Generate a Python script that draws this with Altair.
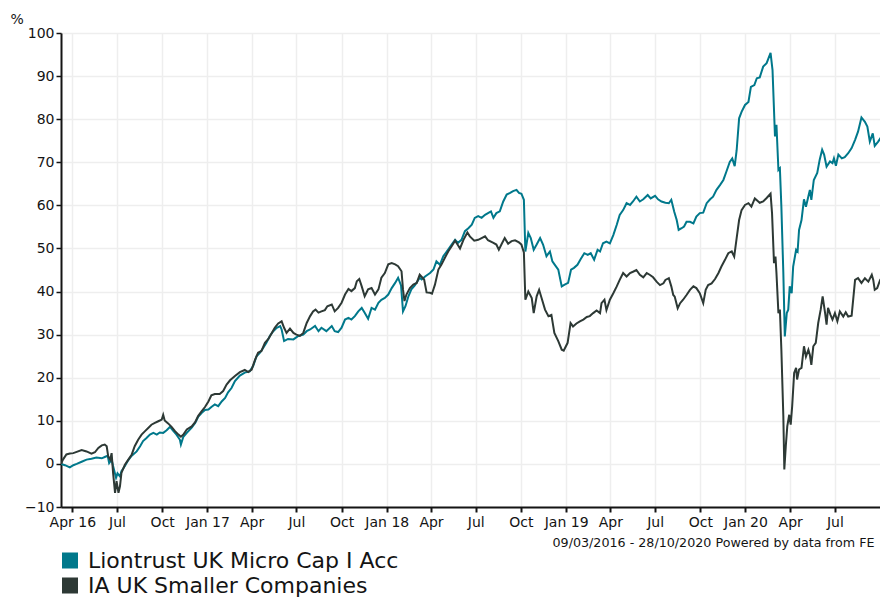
import altair as alt
import pandas as pd

start_date = "2016-03-09"
view_end_date = "2020-10-17"

series_names = ["Liontrust UK Micro Cap I Acc", "IA UK Smaller Companies"]
series_colors = ["#00788b", "#2d3935"]

# days since 09/03/2016 and cumulative % growth
lion_days = [0, 8, 18, 25, 32, 42, 52, 62, 72, 83, 89, 95, 98, 103, 106, 112, 115, 120, 123, 130,
             137, 144, 154, 161, 167, 174, 181, 188, 195, 201, 208, 215, 222, 228, 235, 242, 244, 249, 256, 266,
             273, 279, 286, 293, 300, 306, 313, 320, 327, 334, 340, 347,
             354, 364, 374, 384, 391, 398, 405, 412, 418, 425, 432, 439, 446, 449, 454, 462, 473, 483,
             493, 500, 507, 517, 524, 530, 540, 551, 557, 564, 571, 578, 585, 591, 598, 605, 612, 618,
             625, 632, 639, 646, 652, 659, 666, 673, 680, 686, 692, 696, 701, 707, 713, 720, 730,
             734, 741, 751, 758, 764, 771, 778, 785, 795, 802, 808, 815, 822, 829, 836, 842, 849, 856,
             863, 869, 875, 880, 886, 893, 900, 907, 914, 920, 927, 932, 937, 942, 945, 951, 956, 962,
             968, 975, 981, 988, 995, 1000, 1005, 1012, 1019, 1025, 1032, 1038, 1044, 1051, 1058, 1065,
             1072, 1078, 1085, 1092,
             1097, 1103, 1110, 1117, 1124, 1131, 1137, 1144, 1151, 1158, 1164, 1171, 1178, 1185, 1194,
             1200, 1209, 1215, 1222, 1230, 1237, 1242, 1248, 1253, 1257, 1263, 1268, 1273, 1280, 1287,
             1293, 1300, 1307, 1314, 1321, 1327, 1334, 1341, 1348, 1354, 1361, 1366, 1371, 1375, 1380,
             1385, 1392, 1399, 1404, 1411, 1416, 1422,
             1429, 1436, 1444, 1448, 1453, 1456, 1460, 1463, 1466, 1470, 1473, 1477, 1480, 1483, 1487,
             1490, 1496, 1499, 1502, 1507, 1512, 1516, 1521, 1524, 1527, 1532, 1539, 1544, 1549, 1553,
             1558, 1565, 1570, 1573, 1577, 1582, 1589, 1595, 1602, 1609, 1616, 1622, 1629, 1636, 1641,
             1646, 1652, 1656, 1663, 1670, 1677, 1683, 1689, 1694]
lion_vals = [0, -0.3, -0.8, -0.3, 0, 0.5, 1.0, 1.2, 1.5, 1.3, 1.6, 1.9, 0.2, 1.0, -0.5, -3.2, -2.2, -2.9, -1.7, -0.5,
             0.9, 1.9, 2.9, 4.1, 5.3, 6.0, 6.8, 7.2, 6.8, 7.3, 7.2, 7.8, 8.6, 7.7, 6.8, 5.6, 4.5, 6.3, 7.2, 8.4,
             9.5, 10.9, 11.8, 12.5, 12.6, 13.2, 13.8, 13.4, 14.5, 15.3, 16.6, 17.6,
             19.2, 20.5, 21.2, 21.5, 22.7, 25.0, 25.8, 27.0, 28.1, 29.7, 30.8, 31.6, 32.0, 31.2, 28.5, 29.0, 28.9, 29.7,
             30.0, 30.8, 31.2, 32.0, 30.8, 31.6, 30.8, 32.0, 30.8, 30.6, 31.6, 33.5, 33.9, 33.5, 34.3, 35.4, 36.2, 35.1,
             33.7, 36.2, 35.8, 37.4, 38.1, 38.5, 39.3, 40.8, 42.0, 43.2, 41.4, 35.4, 36.6, 38.9, 40.5, 41.4, 43.2,
             42.8, 43.5, 44.3, 45.1, 47.0, 46.2, 48.2, 49.3, 50.9, 52.0, 51.3, 52.0, 54.0, 54.7, 55.5, 57.1, 57.5, 57.1,
             57.8, 58.2, 58.6, 57.1, 58.2, 58.6, 60.9, 62.5, 62.9, 63.3, 63.6, 62.9, 62.7, 61.3, 49.3, 53.6, 52.4, 49.7,
             50.9, 52.4, 50.9, 48.2, 49.3, 47.0, 46.2, 45.1, 41.2, 41.6, 42.0, 45.1, 45.5, 46.2, 47.6, 48.9,
             48.5, 48.9, 47.4, 49.7,
             49.3, 51.2, 51.6, 51.2, 53.1, 55.5, 57.8, 58.9, 60.5, 60.1, 60.9, 62.0, 60.9, 61.4, 62.4,
             61.6, 62.2, 61.4, 60.9, 60.6, 60.5, 61.3, 58.5, 56.6, 54.3, 54.7, 55.1, 56.2, 56.2, 55.8,
             57.4, 58.2, 58.3, 60.5, 61.4, 62.0, 63.6, 64.7, 65.9, 67.8, 70.1, 70.9, 69.1, 72.8, 80.2,
             81.7, 83.3, 84.0, 87.5, 87.9, 89.5, 89.7,
             92.2, 93.0, 95.4, 91.4, 76.0, 78.7, 68.2, 68.6, 59.7, 44.3, 29.6, 35.0, 35.8, 41.2, 39.6,
             45.8, 49.7, 49.3, 54.3, 56.6, 61.4, 59.7, 62.1, 63.6, 61.3, 65.9, 67.5, 70.6, 72.9, 71.8,
             69.0, 70.2, 69.8, 70.9, 69.2, 71.8, 70.9, 71.2, 72.1, 73.3, 75.2, 77.1, 80.4, 79.4, 78.3,
             74.8, 76.7, 73.8, 74.8, 76.0, 77.9, 76.0, 77.5, 77.2]

ia_days = [0, 4, 11, 18, 25, 32, 42, 52, 62, 69, 76, 83, 89, 93, 96, 100, 103, 106, 110, 113,
           117, 120, 123, 130, 137, 144, 150, 157, 164, 171, 178, 184, 191, 198, 205, 208, 211, 218, 225, 232,
           239, 244, 249, 256, 266, 273, 279, 286, 293, 300, 306, 313, 323, 330, 337, 344,
           354, 364, 374, 381, 388, 395, 401, 408, 415, 422, 429, 435, 442, 449, 454, 459, 466, 473,
           479, 486, 493, 500, 507, 513, 518, 524, 530, 537, 542, 551, 557, 564, 571, 578, 585, 591,
           598, 602, 607, 612, 618, 625, 632, 639, 646, 652, 659, 666, 673, 680, 686, 693, 696, 699,
           703, 710, 717, 724, 730,
           739, 744, 751, 755, 761, 768, 774, 781, 788, 795, 802, 807, 812, 819, 827, 832, 841, 849,
           856, 863, 869, 880, 886, 891, 897, 903, 910, 917, 924, 932, 937, 942, 945, 951, 958, 962,
           968, 973, 978, 985, 992, 998, 1004, 1012, 1019, 1023, 1031, 1037, 1042, 1049, 1056, 1063,
           1070, 1076, 1083, 1090, 1097,
           1100, 1106, 1110, 1117, 1124, 1131, 1137, 1144, 1151, 1158, 1164, 1171, 1178, 1185, 1192,
           1198, 1205, 1212, 1219, 1226, 1230, 1237, 1242, 1246, 1249, 1255, 1260, 1266, 1273, 1280,
           1287, 1293, 1300, 1307, 1312, 1317, 1324, 1331, 1338, 1344, 1351, 1358, 1365, 1370, 1375,
           1380, 1385, 1392, 1399, 1405, 1412, 1419,
           1422, 1429, 1436, 1444, 1447, 1451, 1454, 1456, 1460, 1463, 1466, 1470, 1472, 1475, 1478,
           1482, 1485, 1488, 1492, 1496, 1498, 1502, 1507, 1512, 1516, 1521, 1524, 1527, 1531, 1536,
           1541, 1546, 1550, 1555, 1558, 1561, 1566, 1570, 1575, 1580, 1585, 1592, 1597, 1602, 1609,
           1616, 1622, 1629, 1636, 1643, 1650, 1653, 1656, 1661, 1667, 1672, 1677, 1683, 1689, 1694]
ia_vals = [0, 1.0, 2.2, 2.4, 2.5, 2.8, 3.2, 2.9, 2.4, 2.7, 3.7, 4.3, 4.5, 4.1, 1.8, 1.0, 2.5, -2.1, -6.7, -4.0,
           -6.7, -5.2, -2.1, -0.2, 1.0, 2.2, 4.1, 5.6, 6.8, 7.6, 8.4, 9.1, 9.5, 9.9, 10.3, 11.4, 10.1, 9.4, 8.6, 7.6,
           6.8, 6.3, 6.8, 8.0, 8.7, 9.7, 11.1, 12.2, 13.2, 14.5, 15.9, 16.2, 16.2, 16.9, 18.4, 19.4,
           20.4, 21.3, 21.8, 21.3, 21.9, 24.2, 25.8, 26.2, 28.1, 29.0, 30.4, 31.6, 32.6, 33.1, 31.6, 30.4, 31.4, 30.4,
           30.0, 29.7, 30.4, 32.7, 34.3, 35.4, 35.8, 35.1, 35.4, 35.7, 36.6, 37.0, 35.4, 36.2, 37.4, 39.3, 40.6, 40.1,
           40.8, 42.4, 42.9, 41.2, 38.9, 40.5, 40.8, 39.3, 40.5, 43.2, 44.3, 46.3, 46.6, 46.3, 45.9, 44.7, 40.5, 37.8,
           39.3, 40.8, 41.6, 42.0, 43.9,
           42.8, 39.8, 39.7, 39.5, 41.6, 45.1, 46.2, 47.8, 49.3, 50.5, 51.8, 50.9, 50.0, 52.0, 53.7, 52.8, 51.8, 52.0,
           52.4, 52.8, 51.9, 51.3, 50.9, 49.7, 51.1, 52.4, 51.1, 51.7, 51.9, 51.4, 50.9, 49.1, 38.1, 40.0, 38.5, 35.0,
           38.9, 40.4, 38.5, 35.8, 34.3, 34.6, 30.4, 28.5, 26.5, 26.3, 28.1, 32.7, 31.9, 32.6, 33.1, 33.5,
           34.1, 34.3, 35.0, 35.6, 35.0,
           37.3, 38.1, 35.7, 38.1, 39.6, 41.2, 42.7, 44.3, 43.5, 44.3, 44.6, 45.0, 43.9, 43.3, 44.3,
           43.9, 43.3, 42.3, 41.5, 41.9, 42.7, 43.1, 41.2, 39.2, 38.8, 36.1, 37.3, 38.1, 39.2, 40.4,
           41.2, 40.8, 39.6, 37.3, 40.4, 41.5, 41.9, 42.9, 44.3, 45.8, 47.3, 48.9, 49.3, 48.1, 52.4,
           56.6, 58.9, 60.1, 60.5, 59.7, 61.6, 60.9,
           60.6, 60.9, 61.7, 62.7, 58.2, 46.6, 48.1, 44.3, 35.0, 35.8, 26.5, 11.1, -1.3, 4.1, 8.7,
           11.4, 9.1, 13.4, 21.1, 22.3, 19.6, 21.9, 22.3, 27.3, 24.9, 26.5, 25.3, 23.0, 27.3, 28.1,
           32.7, 35.8, 38.9, 35.0, 32.3, 36.2, 34.6, 33.5, 35.0, 33.1, 35.4, 34.2, 35.2, 34.2, 34.4,
           42.7, 43.1, 42.0, 43.1, 42.3, 43.9, 42.7, 40.4, 40.8, 42.7, 43.5, 45.4, 44.3, 44.8, 45.2]

tick_dates = ["2016-04-01", "2016-07-01", "2016-10-01", "2017-01-01", "2017-04-01", "2017-07-01",
              "2017-10-01", "2018-01-01", "2018-04-01", "2018-07-01", "2018-10-01", "2019-01-01",
              "2019-04-01", "2019-07-01", "2019-10-01", "2020-01-01", "2020-04-01", "2020-07-01"]
y_ticks = [-10, 0, 10, 20, 30, 40, 50, 60, 70, 80, 90, 100]
y_unit = "%"
credit = "09/03/2016 - 28/10/2020 Powered by data from FE"

FONT = "DejaVu Sans"
INK = "#141414"


def ms(s):
    return int(pd.Timestamp(s, tz="UTC").timestamp() * 1000)


start = pd.Timestamp(start_date)
rows = []
for name, days, vals in [(series_names[0], lion_days, lion_vals), (series_names[1], ia_days, ia_vals)]:
    for d, v in zip(days, vals):
        rows.append({"date": (start + pd.Timedelta(days=d)).strftime("%Y-%m-%d"), "value": v, "series": name})
df = pd.DataFrame(rows)

label_expr = ("utcFormat(datum.value, '%b') + ((utcFormat(datum.value, '%m') == '01' || "
              "utcFormat(datum.value, '%Y-%m') == '2016-04') ? ' ' + utcFormat(datum.value, '%y') : '')")

chart = alt.Chart(df).mark_line(strokeWidth=2, clip=True).encode(
    x=alt.X(
        "date:T",
        scale=alt.Scale(type="utc", domain=[ms(start_date), ms(view_end_date)]),
        axis=alt.Axis(
            values=[ms(t) for t in tick_dates], labelExpr=label_expr,
            labelFont=FONT, labelFontSize=14, labelColor=INK, labelOverlap=False, labelFlush=False,
            labelPadding=3, tickSize=5, tickWidth=2, tickColor=INK,
            domainColor=INK, domainWidth=2, grid=True, gridColor="#eeeeee", gridWidth=1.5,
            title=credit, titleFont=FONT, titleFontSize=12.7, titleFontWeight="normal", titleColor=INK,
            titleAlign="left", titleAnchor="start", titleBaseline="alphabetic", titleX=491, titleY=39,
        ),
    ),
    y=alt.Y(
        "value:Q",
        scale=alt.Scale(domain=[-10, 100], nice=False, zero=False),
        axis=alt.Axis(
            values=y_ticks, labelFont=FONT, labelFontSize=14, labelColor=INK, labelPadding=2,
            tickSize=5, tickWidth=1.5, tickColor=INK, domainColor=INK, domainWidth=2,
            grid=True, gridColor="#eeeeee", gridWidth=1.5, labelOverlap=False, labelFlush=False,
            title=y_unit, titleFont=FONT, titleFontSize=14, titleFontWeight="normal", titleColor=INK,
            titleAngle=0, titleAlign="left", titleBaseline="alphabetic", titleX=-51, titleY=-10,
        ),
    ),
    color=alt.Color(
        "series:N",
        scale=alt.Scale(domain=series_names, range=series_colors),
        legend=alt.Legend(
            title=None, orient="none", legendX=-2, legendY=515, direction="vertical",
            symbolType="square", symbolSize=64, symbolStrokeWidth=8, symbolOpacity=1,
            labelFont=FONT, labelFontSize=22, labelColor=INK, labelOffset=7, rowPadding=0,
            clipHeight=25, padding=0, labelLimit=700,
        ),
    ),
).properties(
    width=827, height=474,
    autosize=alt.AutoSizeParams(type="none"),
    padding={"left": 53, "top": 25, "right": -8, "bottom": 91},
    background="white",
).configure_view(stroke=None)

chart.save("out.html", embed_options={"renderer": "svg", "actions": False})
